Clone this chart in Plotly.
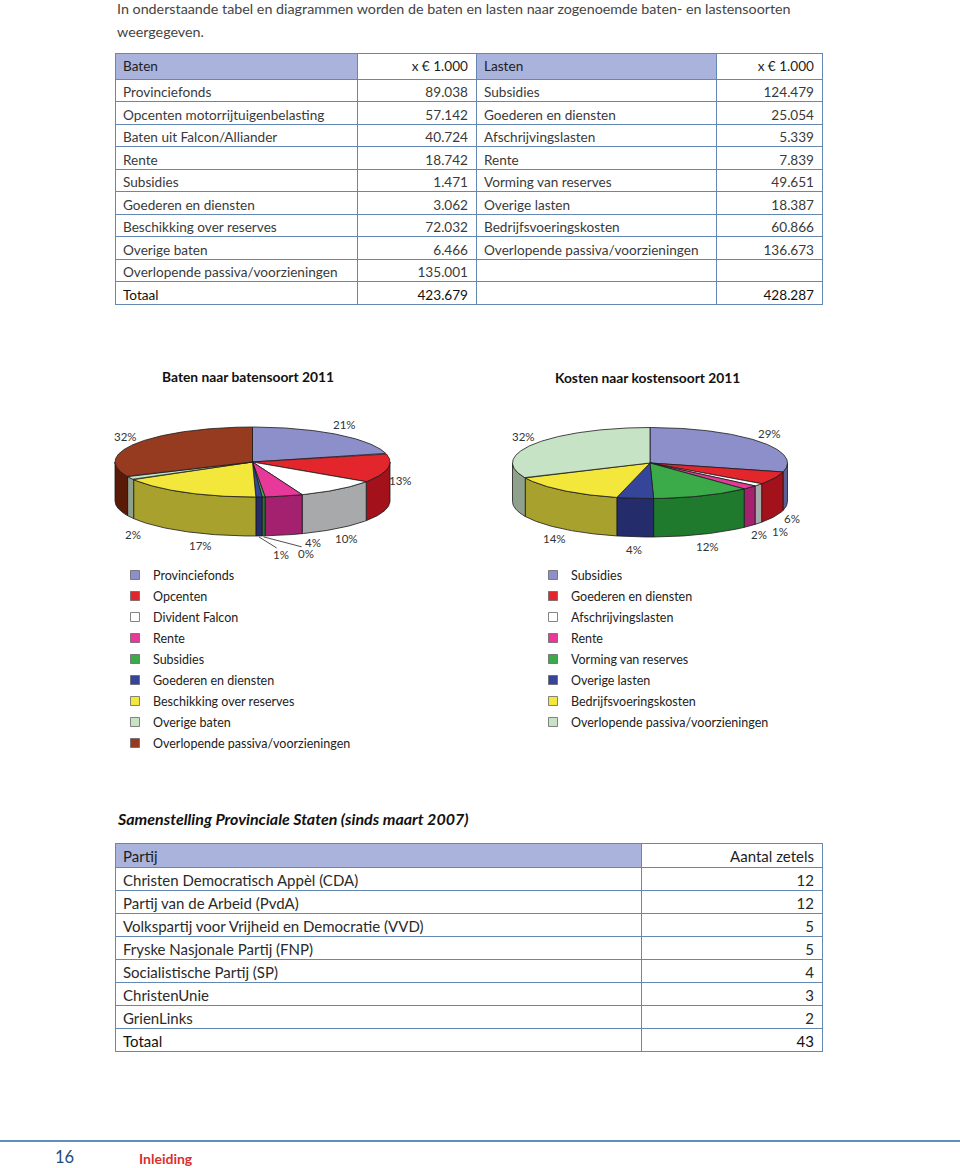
import numpy as np
import plotly.graph_objects as go

W, H = 960, 1168
FONT = "Lato"

# ---------------- data ----------------
intro_lines = [
    "In onderstaande tabel en diagrammen worden de baten en lasten naar zogenoemde baten- en lastensoorten",
    "weergegeven.",
]

baten_items = ["Provinciefonds", "Opcenten motorrijtuigenbelasting", "Baten uit Falcon/Alliander",
               "Rente", "Subsidies", "Goederen en diensten", "Beschikking over reserves",
               "Overige baten", "Overlopende passiva/voorzieningen"]
baten_values = [89038, 57142, 40724, 18742, 1471, 3062, 72032, 6466, 135001]
baten_total = 423679

lasten_items = ["Subsidies", "Goederen en diensten", "Afschrijvingslasten", "Rente",
                "Vorming van reserves", "Overige lasten", "Bedrijfsvoeringskosten",
                "Overlopende passiva/voorzieningen"]
lasten_values = [124479, 25054, 5339, 7839, 49651, 18387, 60866, 136673]
lasten_total = 428287

table_header = ["Baten", "x € 1.000", "Lasten", "x € 1.000"]
total_label = "Totaal"

baten_title = "Baten naar batensoort 2011"
kosten_title = "Kosten naar kostensoort 2011"
baten_legend = ["Provinciefonds", "Opcenten", "Divident Falcon", "Rente", "Subsidies",
                "Goederen en diensten", "Beschikking over reserves", "Overige baten",
                "Overlopende passiva/voorzieningen"]
kosten_legend = ["Subsidies", "Goederen en diensten", "Afschrijvingslasten", "Rente",
                 "Vorming van reserves", "Overige lasten", "Bedrijfsvoeringskosten",
                 "Overlopende passiva/voorzieningen"]

staten_title = "Samenstelling Provinciale Staten (sinds maart 2007)"
staten_header = ["Partij", "Aantal zetels"]
partijen = ["Christen Democratisch Appèl (CDA)", "Partij van de Arbeid (PvdA)",
            "Volkspartij voor Vrijheid en Democratie (VVD)", "Fryske Nasjonale Partij (FNP)",
            "Socialistische Partij (SP)", "ChristenUnie", "GrienLinks"]
zetels = [12, 12, 5, 5, 4, 3, 2]
zetels_totaal = 43

page_number = "16"
section_name = "Inleiding"

# ---------------- styles ----------------
LAV = "#8c8fc9"; RED = "#e3262b"; WHITE = "#ffffff"; PINK = "#e8399b"; GREEN = "#3bab4a"
NAVY = "#35469a"; YELLOW = "#f2e73a"; LGREEN = "#c6e3c5"; BROWN = "#963a20"
W_LAV = "#5c5f94"; W_RED = "#a3121a"; W_WHITE = "#a8a9ab"; W_PINK = "#a3216f"; W_GREEN = "#1f7a2e"
W_NAVY = "#242c6b"; W_YELLOW = "#a9a12e"; W_LGREEN = "#8fa08d"; W_BROWN = "#5a1a08"

baten_tops = [LAV, RED, WHITE, PINK, GREEN, NAVY, YELLOW, LGREEN, BROWN]
baten_walls = [W_LAV, W_RED, W_WHITE, W_PINK, W_GREEN, W_NAVY, W_YELLOW, W_LGREEN, W_BROWN]
kosten_tops = [LAV, RED, WHITE, PINK, GREEN, NAVY, YELLOW, LGREEN]
kosten_walls = [W_LAV, W_RED, W_WHITE, W_PINK, W_GREEN, W_NAVY, W_YELLOW, W_LGREEN]

HEAD_BG = "#aab3dc"
LINE = "#6487b3"
TXT = "#3a3a3a"


def nl(v):
    return f"{v:,}".replace(",", ".")


fig = go.Figure()

# ---------------- table 1 ----------------
col1 = baten_items + [total_label]
col2 = [nl(v) for v in baten_values] + [nl(baten_total)]
col3 = lasten_items + ["", ""]
col4 = [nl(v) for v in lasten_values] + ["", nl(lasten_total)]
n1 = len(col1)
fc1 = [TXT] * (n1 - 1) + ["#111111"]
fig.add_trace(go.Table(
    domain=dict(x=[115 / W, 822 / W], y=[1 - 306 / H, 1 - 53 / H]),
    columnwidth=[242, 119, 240, 106],
    header=dict(values=table_header, fill_color=[HEAD_BG, WHITE, HEAD_BG, WHITE],
                align=["left", "right", "left", "right"], height=26,
                font=dict(family=FONT, size=13.6, color="#1e1e1e"),
                line=dict(color=LINE, width=1)),
    cells=dict(values=[col1, col2, col3, col4], fill_color=WHITE,
               align=["left", "right", "left", "right"], height=22.5,
               font=dict(family=FONT, size=13.6, color=[fc1, fc1, fc1, fc1]),
               line=dict(color=LINE, width=1)),
))

# ---------------- table 2 ----------------
p1 = partijen + [total_label]
p2 = [str(z) for z in zetels] + [str(zetels_totaal)]
fc2 = ["#2a2a2a"] * (len(p1) - 1) + ["#111111"]
fig.add_trace(go.Table(
    domain=dict(x=[115 / W, 822 / W], y=[1 - 1053 / H, 1 - 843 / H]),
    columnwidth=[527, 181],
    header=dict(values=staten_header, fill_color=[HEAD_BG, WHITE],
                align=["left", "right"], height=24,
                font=dict(family=FONT, size=15, color="#1e1e1e"),
                line=dict(color=LINE, width=1)),
    cells=dict(values=[p1, p2], fill_color=WHITE, align=["left", "right"], height=23,
               font=dict(family=FONT, size=15, color=[fc2, fc2]),
               line=dict(color=LINE, width=1)),
))

annotations = []
shapes = []


def txt(x, y, s, size, color="#222", anchor="left", bold=False, italic=False):
    if bold:
        s = f"<b>{s}</b>"
    if italic:
        s = f"<i>{s}</i>"
    annotations.append(dict(x=x, y=y, xref="x", yref="y", text=s, showarrow=False,
                            xanchor=anchor, yanchor="middle",
                            font=dict(family=FONT, size=size, color=color)))


def pie3d(values, tops, walls, cx, cy, rx, ry, depth, nudges, leaders):
    v = np.array(values, float)
    frac = v / v.sum()
    edges = np.concatenate([[0.0], np.cumsum(frac)]) * 2 * np.pi

    def pt(t, dy=0.0):
        return cx + rx * np.sin(t), cy - ry * np.cos(t) + dy

    style = dict(mode="lines", fill="toself", hoverinfo="skip", showlegend=False,
                 line=dict(color="#1b1b1b", width=0.8))
    # side walls (front half only)
    for i in range(len(v)):
        a = max(edges[i], np.pi / 2)
        b = min(edges[i + 1], 1.5 * np.pi)
        if b > a:
            t = np.linspace(a, b, max(2, int((b - a) / 0.01)))
            xs, ys = pt(t)
            xb, yb = pt(t[::-1], depth)
            fig.add_trace(go.Scatter(x=np.r_[xs, xb, xs[0]], y=np.r_[ys, yb, ys[0]],
                                     fillcolor=walls[i], **style))
    # top faces
    for i in range(len(v)):
        a, b = edges[i], edges[i + 1]
        t = np.linspace(a, b, max(2, int((b - a) / 0.01)))
        xs, ys = pt(t)
        fig.add_trace(go.Scatter(x=np.r_[cx, xs, cx], y=np.r_[cy, ys, cy],
                                 fillcolor=tops[i], **style))
    # percentage labels
    for i in range(len(v)):
        tm = (edges[i] + edges[i + 1]) / 2
        lx = cx + (rx + 13) * np.sin(tm)
        ly = cy - (ry + 13) * np.cos(tm) + depth * min(1.0, max(0.0, -np.cos(tm)) * 1.5)
        dx, dy = nudges.get(i, (0, 0))
        lx += dx
        ly += dy
        if i in leaders:
            sx, sy = pt(tm, depth)
            fig.add_trace(go.Scatter(x=[sx, lx - 4], y=[sy + 1, ly - 7], mode="lines",
                                     hoverinfo="skip", showlegend=False,
                                     line=dict(color="#222", width=0.8)))
        txt(lx, ly, f"{round(frac[i] * 100)}%", 11.5, "#333", anchor="center")


# label nudges (index -> pixel offset) to keep small slices readable
baten_nudges = {3: (26, -5), 4: (41, 5), 5: (21, 6), 6: (21, 3), 7: (14, 23)}
kosten_nudges = {1: (6, 10), 2: (11, 3)}

pie3d(baten_values, baten_tops, baten_walls, 252.5, 462, 137.5, 35, 39, baten_nudges, {4, 5})
pie3d(lasten_values, kosten_tops, kosten_walls, 650, 463, 137.5, 35.5, 38.5, kosten_nudges, set())

# titles
txt(248, 376, baten_title, 13.8, "#111", anchor="center", bold=True)
txt(647, 377, kosten_title, 13.8, "#111", anchor="center", bold=True)

# legends
for i, lab in enumerate(baten_legend):
    yc = 575 + 21 * i
    shapes.append(dict(type="rect", xref="x", yref="y", x0=130.5, x1=139.5, y0=yc - 4.5, y1=yc + 4.5,
                       fillcolor=baten_tops[i], line=dict(color="#666", width=0.8)))
    txt(151, yc, lab, 12.5, "#222")
for i, lab in enumerate(kosten_legend):
    yc = 575 + 21 * i
    shapes.append(dict(type="rect", xref="x", yref="y", x0=548.5, x1=557.5, y0=yc - 4.5, y1=yc + 4.5,
                       fillcolor=kosten_tops[i], line=dict(color="#666", width=0.8)))
    txt(569, yc, lab, 12.5, "#222")

# intro text
txt(115, 8, intro_lines[0], 14.3, "#444")
txt(115, 31, intro_lines[1], 14.3, "#444")

# staten title
txt(115, 818, staten_title, 16, "#111", bold=True, italic=True)

# footer
shapes.append(dict(type="line", xref="x", yref="y", x0=0, x1=960, y0=1141, y1=1141,
                   line=dict(color="#5f8dbd", width=2)))
txt(64, 1157, page_number, 16.5, "#1f4e79", anchor="center")
txt(137, 1158, section_name, 14, "#d9302c", bold=True)

fig.update_layout(
    width=W, height=H, margin=dict(l=0, r=0, t=0, b=0),
    paper_bgcolor="white", plot_bgcolor="rgba(0,0,0,0)",
    xaxis=dict(range=[0, W], visible=False, fixedrange=True, domain=[0, 1]),
    yaxis=dict(range=[H, 0], visible=False, fixedrange=True, domain=[0, 1]),
    annotations=annotations, shapes=shapes, showlegend=False,
    font=dict(family=FONT),
)

fig.write_html("out.html", config={"displayModeBar": False},
               post_script="document.body.style.margin='0px';")
